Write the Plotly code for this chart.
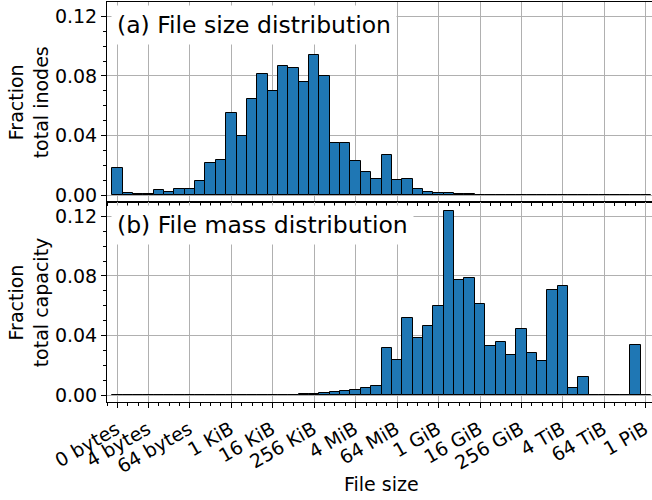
import plotly.graph_objects as go
from plotly.subplots import make_subplots

# ---- data ----
tick_labels = ["0 bytes", "4 bytes", "64 bytes", "1 KiB", "16 KiB", "256 KiB", "4 MiB",
               "64 MiB", "1 GiB", "16 GiB", "256 GiB", "4 TiB", "64 TiB", "1 PiB"]
tick_bins = [0, 3, 7, 11, 15, 19, 23, 27, 31, 35, 39, 43, 47, 51]

bins = list(range(52))  # bin 0 = 0 bytes, bin k = 2^(k-1) bytes

size_frac = [0.018, 0.0011, 0.0005, 0.0010, 0.0034, 0.0018, 0.0038, 0.0040, 0.0094, 0.0215,
             0.0238, 0.0553, 0.0395, 0.0648, 0.0816, 0.0699, 0.0869, 0.0854, 0.0757, 0.0939,
             0.0800, 0.0347, 0.0347, 0.0231, 0.0153, 0.0105, 0.0269, 0.0101, 0.0110, 0.0040,
             0.0022, 0.0016, 0.0016, 0.0006, 0.0004, 0.0003, 0.0002, 0.0002,
             0.0001, 0.0001, 0.0001, 0.0001, 0.0001, 0.0001, 0.0001, 0.0001, 0.0001, 0.0001,
             0.0001, 0.0001, 0.0001, 0.0001]

mass_frac = [0.0001] * 11 + [0.0002] * 7 + [
    0.0004, 0.0010, 0.0016, 0.0017, 0.0027, 0.0035, 0.0046, 0.0063, 0.0316, 0.0237,
    0.0520, 0.0385, 0.0466, 0.0598, 0.1235, 0.0775, 0.0789, 0.0612, 0.0329, 0.0356,
    0.0269, 0.0446, 0.0282, 0.0229, 0.0708, 0.0735, 0.0045, 0.0123, 0.0001, 0.0001,
    0.0001, 0.0001, 0.0334, 0.0001]

y_ticks = [0.0, 0.04, 0.08, 0.12]

FONT = "DejaVu Sans"
BLUE = "#1f77b4"
GRID = "#b0b0b0"

fig = make_subplots(rows=2, cols=1, shared_xaxes=True, vertical_spacing=0)

for row, vals in ((1, size_frac), (2, mass_frac)):
    fig.add_trace(go.Bar(x=bins, y=vals, width=1, marker=dict(color=BLUE,
                   line=dict(color="black", width=1)), showlegend=False), row=row, col=1)

common_x = dict(range=[-1, 51.6], tickmode="array", tickvals=tick_bins, ticktext=tick_labels,
                ticks="outside", ticklen=5, tickcolor="black", tickwidth=1,
                showline=True, linecolor="black", linewidth=1, mirror=True,
                showgrid=True, gridcolor=GRID, gridwidth=1, zeroline=False,
                minor=dict(tickmode="linear", tick0=0, dtick=1, ticks="outside", ticklen=3,
                           tickcolor="black", showgrid=False),
                tickfont=dict(family=FONT, size=19, color="black"))
fig.update_xaxes(**common_x)
fig.update_xaxes(showticklabels=False, row=1, col=1)
fig.update_xaxes(showticklabels=True, tickangle=-30, ticklabeloverflow="allow",
                 ticklabelshift=-1, ticklabelstandoff=3, row=2, col=1)

fig.update_yaxes(range=[-0.0047, 0.1297], tickmode="array", tickvals=y_ticks,
                 ticktext=["%.2f" % v for v in y_ticks],
                 ticks="outside", ticklen=5, tickcolor="black", tickwidth=1,
                 showline=True, linecolor="black", linewidth=1, mirror=False,
                 showgrid=True, gridcolor=GRID, gridwidth=1, zeroline=False,
                 minor=dict(tickmode="linear", tick0=0, dtick=0.01, ticks="outside", ticklen=3,
                            tickcolor="black", showgrid=False),
                 tickfont=dict(family=FONT, size=19, color="black"))

annos = [
    dict(text="(a) File size distribution", x=0.008, y=0.9426, xanchor="left", yanchor="middle",
         font=dict(size=23.5)),
    dict(text="(b) File mass distribution", x=0.008, y=0.4432, xanchor="left", yanchor="middle",
         font=dict(size=23.5)),
    dict(text="Fraction<br>total inodes", x=-0.1443, y=0.75, xanchor="center", yanchor="middle",
         textangle=-90, font=dict(size=19)),
    dict(text="Fraction<br>total capacity", x=-0.1443, y=0.25, xanchor="center", yanchor="middle",
         textangle=-90, font=dict(size=19)),
    dict(text="File size", x=0.504, y=-0.205, xanchor="center", yanchor="middle",
         font=dict(size=19)),
]
for a in annos:
    a.setdefault("xref", "paper")
    a.setdefault("yref", "paper")
    a["showarrow"] = False
    a["font"].update(family=FONT, color="black")
    if a["text"].startswith("("):
        a["bgcolor"] = "white"
        a["borderpad"] = 5
    fig.add_annotation(**a)

fig.update_layout(width=652, height=500, margin=dict(l=107, r=0, t=2, b=98),
                  paper_bgcolor="white", plot_bgcolor="white", bargap=0,
                  font=dict(family=FONT, color="black"))

fig.write_html("out.html")
